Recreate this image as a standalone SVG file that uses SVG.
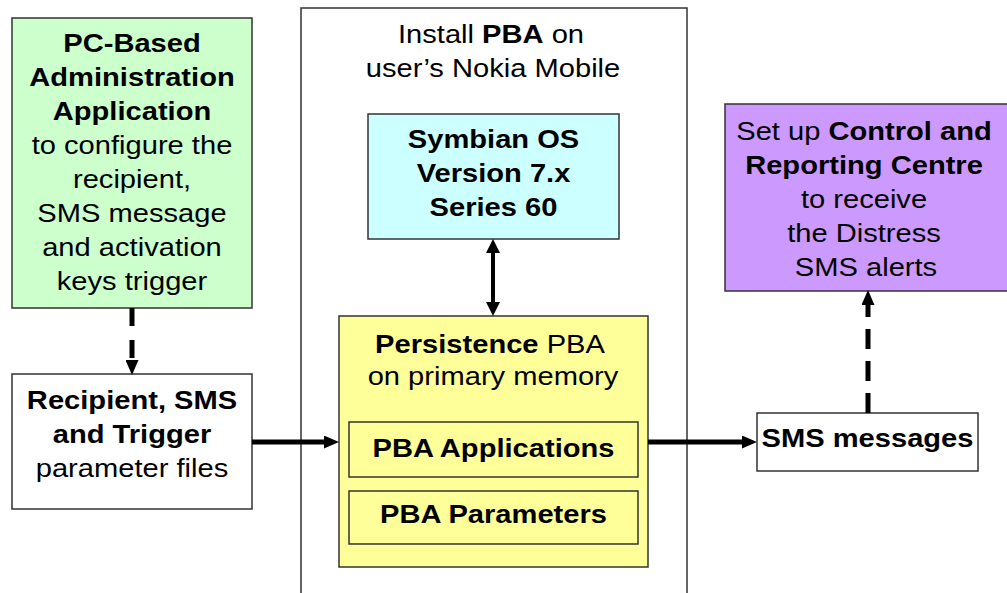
<svg xmlns="http://www.w3.org/2000/svg" width="1007" height="593" viewBox="0 0 1007 593">
<style>
text{font-family:"Liberation Sans",Arial,sans-serif;font-size:26px;fill:#000;text-anchor:middle}
.b{font-weight:bold}
.box{stroke:#333;stroke-width:1.5}
.con{stroke:#000;fill:none}
</style>
<defs>
<marker id="ah" viewBox="0 0 15 13" refX="0" refY="6.5" markerWidth="15" markerHeight="13" markerUnits="userSpaceOnUse" orient="auto-start-reverse"><path d="M0,0 L15,6.5 L0,13 z" fill="#000"/></marker>
<marker id="ah2" viewBox="0 0 14 14" refX="0" refY="7" markerWidth="14" markerHeight="14" markerUnits="userSpaceOnUse" orient="auto-start-reverse"><path d="M0,0 L14,7 L0,14 z" fill="#000"/></marker>
</defs>
<rect width="1007" height="593" fill="#fff"/>
<g id="mobile">
<rect class="box" x="301" y="8" width="386" height="600" fill="#fff"/>
<text transform="matrix(1.12 0 0 1 491 0)" y="43"><tspan>Install </tspan><tspan class="b">PBA</tspan><tspan> on</tspan></text>
<text transform="matrix(1.12 0 0 1 493 0)" y="77">user’s Nokia Mobile</text>
</g>
<g id="pcadmin">
<rect class="box" x="12" y="18" width="240" height="290" fill="#ccffcc"/>
<text class="b" transform="matrix(1.12 0 0 1 132 0)" y="52.5">PC-Based</text>
<text class="b" transform="matrix(1.12 0 0 1 132 0)" y="86.5">Administration</text>
<text class="b" transform="matrix(1.12 0 0 1 132 0)" y="120.3">Application</text>
<text transform="matrix(1.12 0 0 1 132 0)" y="154.3">to configure the</text>
<text transform="matrix(1.12 0 0 1 132 0)" y="188.2">recipient,</text>
<text transform="matrix(1.12 0 0 1 132 0)" y="222.1">SMS message</text>
<text transform="matrix(1.12 0 0 1 132 0)" y="256">and activation</text>
<text transform="matrix(1.12 0 0 1 132 0)" y="290">keys trigger</text>
</g>
<g id="paramfiles">
<rect class="box" x="12" y="374" width="240" height="135" fill="#fff"/>
<text class="b" transform="matrix(1.12 0 0 1 132 0)" y="408.5">Recipient, SMS</text>
<text class="b" transform="matrix(1.12 0 0 1 132 0)" y="443">and Trigger</text>
<text transform="matrix(1.12 0 0 1 132 0)" y="477">parameter files</text>
</g>
<g id="symbian">
<rect class="box" x="368" y="114" width="251" height="125" fill="#ccffff"/>
<text class="b" transform="matrix(1.12 0 0 1 493.5 0)" y="148.5">Symbian OS</text>
<text class="b" transform="matrix(1.12 0 0 1 493.5 0)" y="182.5">Version 7.x</text>
<text class="b" transform="matrix(1.12 0 0 1 493.5 0)" y="216.5">Series 60</text>
</g>
<g id="persistence">
<rect class="box" x="339" y="316" width="309" height="251" fill="#ffff99"/>
<text transform="matrix(1.12 0 0 1 490 0)" y="353"><tspan class="b">Persistence</tspan><tspan> PBA</tspan></text>
<text transform="matrix(1.12 0 0 1 493 0)" y="385">on primary memory</text>
</g>
<g id="pbaapps">
<rect class="box" x="349" y="422" width="289" height="55" fill="#ffff99"/>
<text class="b" transform="matrix(1.12 0 0 1 493.5 0)" y="457">PBA Applications</text>
</g>
<g id="pbaparams">
<rect class="box" x="349" y="491" width="289" height="53" fill="#ffff99"/>
<text class="b" transform="matrix(1.12 0 0 1 493.5 0)" y="523.5">PBA Parameters</text>
</g>
<g id="smsmsg">
<rect class="box" x="757" y="413" width="221" height="58" fill="#fff"/>
<text class="b" transform="matrix(1.12 0 0 1 867.5 0)" y="447">SMS messages</text>
</g>
<g id="centre">
<rect class="box" x="725" y="104" width="290" height="187" fill="#cc99ff"/>
<text transform="matrix(1.12 0 0 1 864 0)" y="140"><tspan>Set up </tspan><tspan class="b">Control and</tspan></text>
<text class="b" transform="matrix(1.12 0 0 1 864 0)" y="174">Reporting Centre</text>
<text transform="matrix(1.12 0 0 1 864 0)" y="208">to receive</text>
<text transform="matrix(1.12 0 0 1 864 0)" y="242">the Distress</text>
<text transform="matrix(1.12 0 0 1 866 0)" y="276">SMS alerts</text>
</g>
<g id="connectors">
<line class="con" x1="132" y1="308" x2="132" y2="360" stroke-width="5" stroke-dasharray="18 14" marker-end="url(#ah)"/>
<line class="con" x1="252" y1="442" x2="324" y2="442" stroke-width="5" marker-end="url(#ah)"/>
<line class="con" x1="493" y1="253" x2="493" y2="302" stroke-width="4" marker-start="url(#ah2)" marker-end="url(#ah2)"/>
<line class="con" x1="648" y1="442" x2="742" y2="442" stroke-width="5" marker-end="url(#ah)"/>
<line class="con" x1="868" y1="413" x2="868" y2="305" stroke-width="5" stroke-dasharray="20 12" marker-end="url(#ah)"/>
</g>
</svg>
